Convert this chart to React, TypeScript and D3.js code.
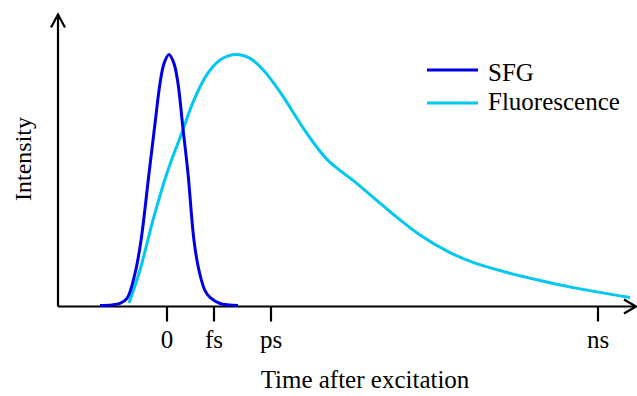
import React from "react";
import * as d3 from "d3";

const W = 637;
const H = 396;

// SFG pulse (time unit, intensity)
const sfgT = [-1.34, -1.1, -0.94, -0.8, -0.64, -0.52, -0.36, -0.24, -0.14, -0.06, 0.04, 0.14, 0.22, 0.32, 0.42, 0.54, 0.64, 0.76, 0.86, 1.06, 1.42];
const sfgV = [0.004, 0.006, 0.012, 0.032, 0.131, 0.262, 0.528, 0.726, 0.885, 0.964, 1.0, 0.964, 0.885, 0.706, 0.528, 0.262, 0.143, 0.063, 0.036, 0.012, 0.004];

// Fluorescence
const flT = [-0.76, -0.54, -0.28, 0, 0.294, 0.526, 0.794, 1.06, 1.36, 1.66, 1.93, 2.26, 2.726, 2.994, 3.194, 3.394, 3.794, 4.26, 5.06, 5.66, 6.12, 6.8, 7.46, 8.12, 9.26];
const flV = [0.014, 0.145, 0.343, 0.53, 0.688, 0.813, 0.919, 0.978, 1.0, 0.985, 0.938, 0.852, 0.708, 0.633, 0.585, 0.55, 0.489, 0.41, 0.284, 0.214, 0.175, 0.135, 0.103, 0.075, 0.036];

const tickValues = [0, 0.94, 2.08, 8.62];
const tickLabels = ["0", "fs", "ps", "ns"];

const seriesNames = ["SFG", "Fluorescence"];
const seriesColors = ["#0000e8", "#00c8f0"];

const FONT = "'Liberation Serif', 'Times New Roman', serif";

export default function App() {
  const x = d3.scaleLinear().domain([-2.18, 9.38]).range([58, 636]);
  const y = d3.scaleLinear().domain([0, 1.155]).range([306.5, 15.5]);

  const line = d3
    .line<[number, number]>()
    .x((d) => x(d[0]))
    .y((d) => y(d[1]))
    .curve(d3.curveCatmullRom.alpha(0.5));

  const sfg = sfgT.map((t, i) => [t, sfgV[i]] as [number, number]);
  const fl = flT.map((t, i) => [t, flV[i]] as [number, number]);

  const x0 = x.range()[0];
  const x1 = x.range()[1];
  const y0 = y.range()[0];
  const y1 = y.range()[1];

  return (
    <svg
      width={W}
      height={H}
      style={{ position: "absolute", left: 0, top: 0, display: "block", background: "#fff" }}
      fontFamily={FONT}
    >
      {/* axes */}
      <line x1={x0} y1={y0} x2={x1} y2={y0} stroke="#000" strokeWidth={2.2} />
      <line x1={x0} y1={y0} x2={x0} y2={y1 - 1} stroke="#000" strokeWidth={2.2} />
      <polyline
        points={`${x0 - 7},${y1 + 12} ${x0},${y1 - 1} ${x0 + 7},${y1 + 12}`}
        fill="none"
        stroke="#000"
        strokeWidth={2.2}
      />
      <polyline
        points={`${x1 - 12},${y0 - 7} ${x1},${y0} ${x1 - 12},${y0 + 7}`}
        fill="none"
        stroke="#000"
        strokeWidth={2.2}
      />
      {/* ticks */}
      {tickValues.map((t, i) => (
        <g key={i}>
          <line x1={x(t)} x2={x(t)} y1={y0} y2={y0 + 15} stroke="#000" strokeWidth={2.2} />
          <text x={x(t)} y={348} textAnchor="middle" fontSize={25} fill="#000">
            {tickLabels[i]}
          </text>
        </g>
      ))}
      {/* axis titles */}
      <text x={365} y={388} textAnchor="middle" fontSize={25} fill="#000">
        Time after excitation
      </text>
      <text
        transform={`translate(31,159) rotate(-90)`}
        textAnchor="middle"
        fontSize={24}
        fill="#000"
      >
        Intensity
      </text>
      {/* curves */}
      <path d={line(fl) || ""} fill="none" stroke={seriesColors[1]} strokeWidth={3} />
      <path d={line(sfg) || ""} fill="none" stroke={seriesColors[0]} strokeWidth={3} />
      {/* legend */}
      {seriesNames.map((n, i) => (
        <g key={n} transform={`translate(0,${i * 33})`}>
          <line x1={427} x2={478} y1={70} y2={70} stroke={seriesColors[i]} strokeWidth={3} />
          <text x={488} y={80.5 - (i === 1 ? 4 : 0)} fontSize={25} fill="#000">
            {n}
          </text>
        </g>
      ))}
    </svg>
  );
}
